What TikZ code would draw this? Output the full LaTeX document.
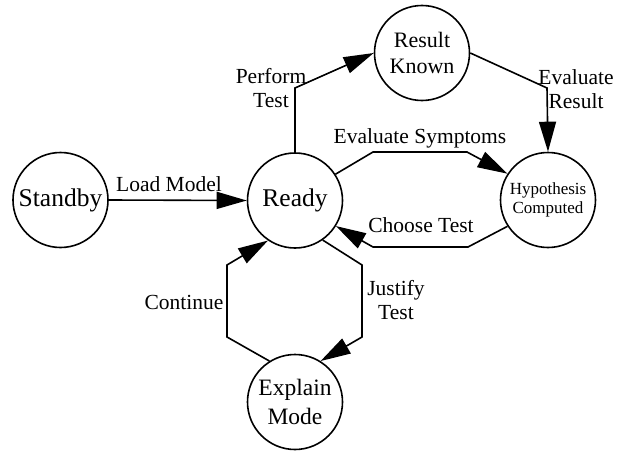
\documentclass[tikz,border=0pt]{standalone}
\usepackage{fontspec}
\setmainfont{Liberation Serif}
\usetikzlibrary{arrows.meta}
\tikzset{
  state/.style={draw, circle, line width=1.6pt, minimum size=95pt, inner sep=0pt, align=center},
  conn/.style={line width=1.6pt, -{Triangle[length=30pt,width=17pt]}},
  lbl/.style={align=center, inner sep=0pt, font=\fontsize{21.5}{23.5}\selectfont},
}
\begin{document}
\begin{tikzpicture}[x=1pt,y=-1pt]
\useasboundingbox (0,0) rectangle (621,452);
\node[state, font=\fontsize{25.5}{28}\selectfont] (standby) at (60.5,200) {Standby};
\node[state, font=\fontsize{25.5}{28}\selectfont] (ready) at (295,200.5) {Ready};
\node[state, font=\fontsize{22}{26}\selectfont] (result) at (422,53) {Result\\Known};
\node[state, font=\fontsize{17}{19.5}\selectfont] (hyp) at (548,200) {Hypothesis\\Computed};
\node[state, font=\fontsize{23.5}{29}\selectfont] (explain) at (295,402) {Explain\\Mode};

\draw[conn] (standby.east) -- (ready.west);
\draw[conn] (ready.north) -- (295,88) -- (result.west);
\draw[conn] (result.east) -- (547,88) -- (hyp.north);
\draw[conn] (ready.33.5) -- (373,152) -- (467,152) -- (hyp.147);
\draw[conn] (hyp.213) -- (468,247) -- (373,247) -- (ready.-32);
\draw[conn] (ready.-55.5) -- (362,265) -- (362,337) -- (explain.58);
\draw[conn] (explain.122) -- (227,337) -- (227,265) -- (ready.-124);

\node[lbl] (lload) at (169,184) {Load Model};
\node[lbl] (lperf) at (271,88) {Perform\\Test};
\node[lbl] (leres) at (576,89) {Evaluate\\Result};
\node[lbl] (lsym) at (420,138) {Evaluate Symptoms};
\node[lbl] (lchoose) at (421,225) {Choose Test};
\node[lbl] (ljust) at (396,300) {Justify\\Test};
\node[lbl] (lcont) at (184,302) {Continue};
\end{tikzpicture}
\end{document}
